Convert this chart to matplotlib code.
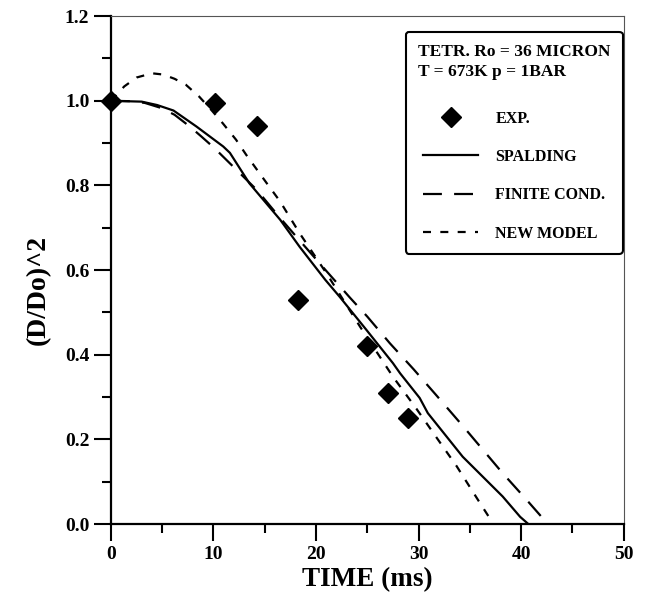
import matplotlib
matplotlib.use("Agg")
import matplotlib.pyplot as plt
from matplotlib.ticker import MultipleLocator, FormatStrFormatter
from matplotlib.lines import Line2D

# experimental points
exp_t = [0.0, 10.1, 14.2, 18.2, 25.0, 27.0, 29.0]
exp_d2 = [1.0, 0.995, 0.94, 0.53, 0.42, 0.31, 0.25]

# Spalding model
spald_t = [0, 3, 4.5, 6.1, 8.35, 10.95, 11.6, 13.5, 16.5, 18.4, 20.9, 22.3, 24.9,
           27.5, 28.2, 30.1, 30.9, 34.3, 38.2, 39.9, 40.7]
spald_d2 = [1.0, 0.998, 0.99, 0.977, 0.939, 0.892, 0.877, 0.805, 0.719, 0.655, 0.577,
            0.537, 0.459, 0.38, 0.356, 0.298, 0.262, 0.159, 0.065, 0.017, 0.0]

# finite conductivity model
finite_t = [0, 2, 3.3, 4.9, 6.2, 7.7, 8.8, 10.1, 11.9, 14.2, 16.5, 18.4, 21, 23.3,
            25, 27.2, 29.5, 31.7, 34.3, 38.2, 40.5, 42.6]
finite_d2 = [1.0, 0.999, 0.995, 0.983, 0.967, 0.939, 0.916, 0.888, 0.845, 0.79, 0.723,
             0.67, 0.598, 0.535, 0.49, 0.427, 0.366, 0.305, 0.232, 0.12, 0.058, 0.0]

# new model
new_t = [0, 1.3, 2.5, 4, 5.1, 6.2, 7.3, 8.6, 9.8, 10.9, 12.2, 13.2, 15.2, 16.5, 18.4,
         21, 24.3, 27.5, 29.8, 31.7, 33.7, 36, 37.3]
new_d2 = [1.0, 1.034, 1.055, 1.065, 1.062, 1.052, 1.038, 1.01, 0.978, 0.947, 0.908,
          0.872, 0.805, 0.762, 0.687, 0.593, 0.466, 0.348, 0.272, 0.206, 0.137, 0.049, 0.0]

plt.rcParams["font.family"] = ["Liberation Serif", "DejaVu Serif"]
plt.rcParams["font.weight"] = "bold"

fig = plt.figure(figsize=(6.45, 5.98), dpi=100)
ax = fig.add_axes([0.172, 0.1237, 0.795, 0.8493])

lw = 1.6
long_dash = (0, (8.5, 5.5))
short_dash = (0, (3.6, 4.2))
ax.plot(spald_t, spald_d2, color="black", lw=lw, ls="-")
ax.plot(finite_t, finite_d2, color="black", lw=lw, ls=long_dash)
ax.plot(new_t, new_d2, color="black", lw=lw, ls=short_dash)
ax.plot(exp_t, exp_d2, ls="none", marker="D", ms=10, color="black",
        clip_on=False, zorder=5)

ax.set_xlim(0, 50)
ax.set_ylim(0, 1.2)
ax.xaxis.set_major_locator(MultipleLocator(10))
ax.xaxis.set_minor_locator(MultipleLocator(5))
ax.yaxis.set_major_locator(MultipleLocator(0.2))
ax.yaxis.set_minor_locator(MultipleLocator(0.1))
ax.yaxis.set_major_formatter(FormatStrFormatter("%.1f"))

ax.tick_params(which="major", direction="out", length=12.5, width=1.5, pad=3,
               labelsize=14)
ax.tick_params(which="minor", direction="out", length=6.5, width=1.5)
for lab in ax.get_xticklabels() + ax.get_yticklabels():
    lab.set_fontweight("bold")

for side in ["left", "bottom"]:
    ax.spines[side].set_linewidth(1.6)
for side in ["top", "right"]:
    ax.spines[side].set_linewidth(0.8)
    ax.spines[side].set_color("#555555")

ax.set_xlabel("TIME (ms)", fontsize=19.5, fontweight="bold")
ax.set_ylabel("(D/Do)^2", fontsize=20, fontweight="bold")
ax.xaxis.set_label_coords(0.5, -0.085)
ax.yaxis.set_label_coords(-0.117, 0.46)

handles = [
    Line2D([], [], ls="none", marker="D", ms=10, color="black"),
    Line2D([], [], color="black", lw=lw, ls="-"),
    Line2D([], [], color="black", lw=lw, ls=long_dash),
    Line2D([], [], color="black", lw=lw, ls=short_dash),
]
labels = ["EXP.", "SPALDING", "FINITE COND.", "NEW MODEL"]
leg = ax.legend(handles, labels, loc="upper right", bbox_to_anchor=(0.998, 0.969),
                title="TETR. Ro = 36 MICRON\nT = 673K p = 1BAR",
                title_fontproperties={"weight": "bold", "size": 12.5},
                prop={"weight": "bold", "size": 11.5},
                frameon=True, fancybox=True, framealpha=1, edgecolor="black",
                handlelength=3.4, handletextpad=1.1, labelspacing=1.4,
                borderpad=0.75, borderaxespad=0, numpoints=1)
leg.get_frame().set_linewidth(1.5)
leg.get_title().set_linespacing(1.35)
leg._legend_box.sep = 22

fig.savefig("out.png", dpi=100)
